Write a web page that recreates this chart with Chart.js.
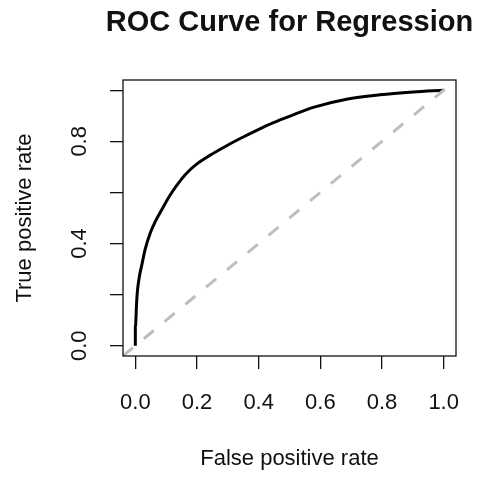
<!DOCTYPE html>
<html>
<head>
<meta charset="utf-8">
<script src="https://cdn.jsdelivr.net/npm/chart.js@4.4.1/dist/chart.umd.min.js"></script>
<style>
  html, body { margin: 0; padding: 0; background: #fff; }
  #wrap { width: 481px; height: 477px; }
</style>
</head>
<body>
<div id="wrap"><canvas id="rocChart"></canvas></div>
<script>
// ROC curve
const fprValues = [0, 0, 0.004, 0.007, 0.013, 0.022, 0.032, 0.049, 0.065, 0.086, 0.113, 0.151,
                   0.175, 0.2, 0.243, 0.286, 0.34, 0.394, 0.448, 0.502, 0.577, 0.685, 0.793, 0.901, 1.0];
const tprValues = [0, 0.07, 0.166, 0.217, 0.27, 0.322, 0.378, 0.443, 0.487, 0.533, 0.59, 0.654,
                   0.686, 0.712, 0.746, 0.776, 0.811, 0.843, 0.873, 0.899, 0.933, 0.965, 0.982, 0.993, 1.0];

// chance line y = x, drawn across the whole box
const diagX = [-0.04, 1.04];
const diagY = [-0.04, 1.04];

const axisMin = -0.04;
const axisMax = 1.04;
const tickStep = 0.2;
const yLabelled = [0, 0.4, 0.8];

const chartTitle = 'ROC Curve for Regression';
const xTitle = 'False positive rate';
const yTitle = 'True positive rate';

const FONT = "'Liberation Sans', Arial, sans-serif";
const INK = '#111';

function toPoints(xs, ys) {
    return xs.map(function(x, i) { return { x: x, y: ys[i] }; });
}

// R style: full box round the plot, title centred over the plot region
const boxAndTitle = {
    id: 'boxAndTitle',
    afterDraw(chart) {
        const ctx = chart.ctx;
        const a = chart.chartArea;
        ctx.save();
        ctx.strokeStyle = INK;
        ctx.lineWidth = 1.3;
        ctx.strokeRect(a.left, a.top, a.right - a.left, a.bottom - a.top);
        ctx.font = 'bold 29px ' + FONT;
        ctx.fillStyle = INK;
        ctx.textAlign = 'center';
        ctx.textBaseline = 'middle';
        ctx.fillText(chartTitle, (a.left + a.right) / 2, 23);
        ctx.restore();
    }
};

const tickGrid = {
    display: true,
    drawOnChartArea: false,
    drawTicks: true,
    tickLength: 13,
    tickColor: INK,
    lineWidth: 1.3
};

new Chart(document.getElementById('rocChart'), {
    type: 'line',
    data: {
        datasets: [{
            label: 'chance',
            data: toPoints(diagX, diagY),
            borderColor: '#bebebe',
            borderWidth: 3,
            borderDash: [13, 14],
            pointRadius: 0,
            fill: false
        }, {
            label: 'ROC',
            data: toPoints(fprValues, tprValues),
            borderColor: '#000',
            borderWidth: 3,
            cubicInterpolationMode: 'monotone',
            pointRadius: 0,
            fill: false
        }]
    },
    options: {
        responsive: true,
        maintainAspectRatio: false,
        animation: false,
        layout: { padding: { top: 80, right: 25, bottom: 0, left: 0 } },
        plugins: {
            legend: { display: false },
            title: { display: false },
            tooltip: { enabled: false }
        },
        scales: {
            x: {
                type: 'linear',
                min: axisMin,
                max: axisMax,
                border: { display: false },
                grid: tickGrid,
                ticks: {
                    stepSize: tickStep,
                    includeBounds: false,
                    autoSkip: false,
                    maxRotation: 0,
                    padding: 21,
                    color: INK,
                    font: { family: FONT, size: 22 },
                    callback: function(v) { return v.toFixed(1); }
                },
                title: {
                    display: true,
                    text: xTitle,
                    color: INK,
                    font: { family: FONT, size: 22 },
                    padding: { top: 0, bottom: 5 }
                },
                afterFit: function(scale) { scale.height = 121; }
            },
            y: {
                type: 'linear',
                min: axisMin,
                max: axisMax,
                border: { display: false },
                grid: tickGrid,
                ticks: {
                    stepSize: tickStep,
                    includeBounds: false,
                    autoSkip: false,
                    minRotation: 90,
                    maxRotation: 90,
                    crossAlign: 'center',
                    padding: 15,
                    color: INK,
                    font: { family: FONT, size: 22 },
                    callback: function(v) {
                        const show = yLabelled.some(function(l) { return Math.abs(l - v) < 1e-6; });
                        return show ? v.toFixed(1) : '';
                    }
                },
                title: {
                    display: true,
                    text: yTitle,
                    color: INK,
                    font: { family: FONT, size: 22 },
                    padding: { top: 12, bottom: 0 }
                },
                afterFit: function(scale) { scale.width = 123; }
            }
        }
    },
    plugins: [boxAndTitle]
});
</script>
</body>
</html>
